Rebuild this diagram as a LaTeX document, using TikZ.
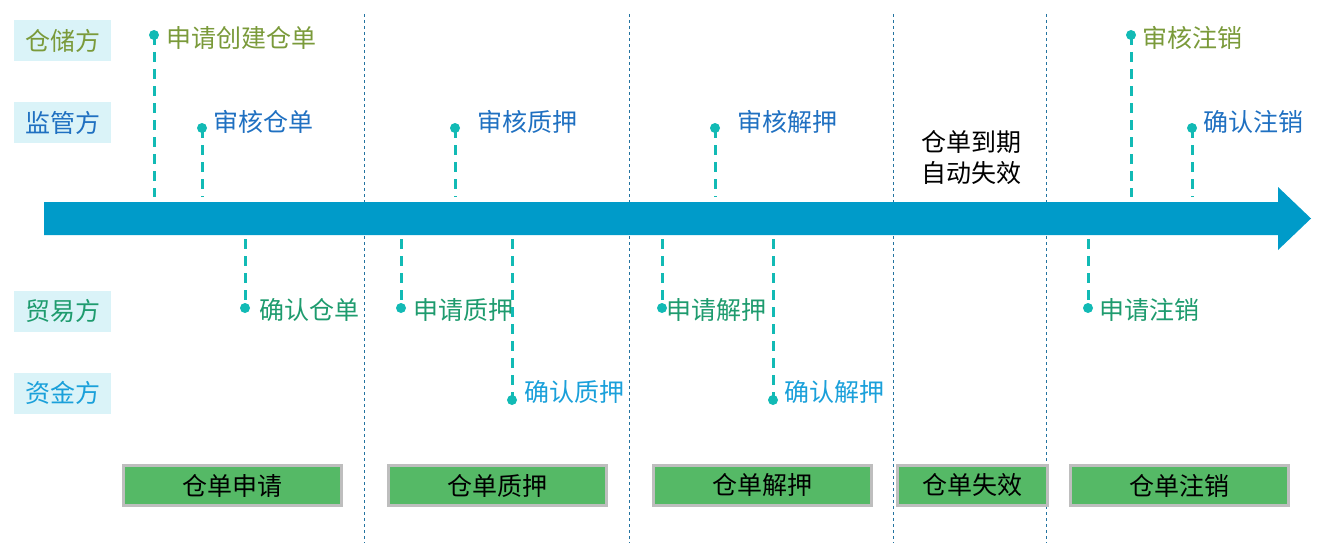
\documentclass[tikz,border=0pt]{standalone}
\usepackage{fontspec}
\newfontfamily\cjk{Noto Sans CJK SC}
\definecolor{partybg}{RGB}{218,243,248}
\definecolor{olivec}{RGB}{122,154,58}
\definecolor{bluec}{RGB}{31,112,193}
\definecolor{greenc}{RGB}{30,155,110}
\definecolor{cyanc}{RGB}{26,160,218}
\definecolor{dotc}{RGB}{18,186,181}
\definecolor{sepc}{RGB}{35,115,160}
\definecolor{bandc}{RGB}{0,155,201}
\definecolor{stagec}{RGB}{85,185,102}
\definecolor{stageb}{RGB}{190,190,190}
\begin{document}
\begin{tikzpicture}[x=1pt,y=-1pt]
\tikzset{
  cjkfont/.style={font=\cjk\fontsize{25}{31}\selectfont},
  party/.style={fill=partybg, minimum width=97pt, minimum height=41pt, inner sep=0pt, cjkfont},
  evtext/.style={anchor=west, inner sep=0pt, cjkfont},
  evdot/.style={circle, fill=dotc, minimum size=10pt, inner sep=0pt},
  evline/.style={draw=dotc, line width=3pt, dash pattern=on 10pt off 7pt},
  sepline/.style={draw=sepc, line width=0.9pt, dash pattern=on 3pt off 3pt},
  stagebox/.style={fill=stagec, draw=stageb, line width=3pt, minimum width=218pt, minimum height=40pt, inner sep=0pt, cjkfont, text=black},
}
\useasboundingbox (0,0) rectangle (1321,543);

% separators (behind the band)
\coordinate (v1t) at (364,14); \coordinate (v1b) at (364,543);
\coordinate (v2t) at (629,14); \coordinate (v2b) at (629,543);
\coordinate (v3t) at (893,14); \coordinate (v3b) at (893,543);
\coordinate (v4t) at (1046,14); \coordinate (v4b) at (1046,543);
\draw[sepline] (v1t) -- (v1b);
\draw[sepline] (v2t) -- (v2b);
\draw[sepline] (v3t) -- (v3b);
\draw[sepline] (v4t) -- (v4b);

% parties
\node[party, text=olivec] (p1) at (62.5,40.5) {仓储方};
\node[party, text=bluec] (p2) at (62.5,122.5) {监管方};
\node[party, text=greenc] (p3) at (62.5,311) {贸易方};
\node[party, text=cyanc] (p4) at (62.5,393) {资金方};

% timeline arrow
\fill[bandc] (44,202) -- (1278,202) -- (1278,187) -- (1311,218.5) -- (1278,250) -- (1278,235) -- (44,235) -- cycle;

% event anchor points on the band
\coordinate (t1) at (154,197);
\coordinate (t2) at (202,197);
\coordinate (b3) at (245,239);
\coordinate (t4) at (455,197);
\coordinate (b5) at (401,239);
\coordinate (b6) at (512,239);
\coordinate (t7) at (715,197);
\coordinate (b8) at (662,239);
\coordinate (b9) at (773,239);
\coordinate (t10) at (1131,197);
\coordinate (t11) at (1192,197);
\coordinate (b12) at (1088,239);

% events
\node[evdot] (d1) at (154,35) {};
\draw[evline] (d1.center) -- (t1);
\node[evtext, text=olivec] (e1) at (166,38) {申请创建仓单};

\node[evdot] (d2) at (202,128) {};
\draw[evline] (d2.center) -- (t2);
\node[evtext, text=bluec] (e2) at (213,122) {审核仓单};

\node[evdot] (d3) at (245,308) {};
\draw[evline] (b3) -- (d3.center);
\node[evtext, text=greenc] (e3) at (259,310) {确认仓单};

\node[evdot] (d4) at (455,128) {};
\draw[evline] (d4.center) -- (t4);
\node[evtext, text=bluec] (e4) at (477,122) {审核质押};

\node[evdot] (d5) at (401,308) {};
\draw[evline] (b5) -- (d5.center);
\node[evtext, text=greenc] (e5) at (413,310) {申请质押};

\node[evdot] (d6) at (512,400) {};
\draw[evline] (b6) -- (d6.center);
\node[evtext, text=cyanc] (e6) at (524,392) {确认质押};

\node[evdot] (d7) at (715,128) {};
\draw[evline] (d7.center) -- (t7);
\node[evtext, text=bluec] (e7) at (737,122) {审核解押};

\node[evdot] (d8) at (662,308) {};
\draw[evline] (b8) -- (d8.center);
\node[evtext, text=greenc] (e8) at (666,310) {申请解押};

\node[evdot] (d9) at (773,400) {};
\draw[evline] (b9) -- (d9.center);
\node[evtext, text=cyanc] (e9) at (784,392) {确认解押};

\node[cjkfont, align=center, inner sep=0pt, text=black] (exp) at (971,158) {仓单到期\\自动失效};

\node[evdot] (d10) at (1131,35) {};
\draw[evline] (d10.center) -- (t10);
\node[evtext, text=olivec] (e10) at (1142,38) {审核注销};

\node[evdot] (d11) at (1192,128) {};
\draw[evline] (d11.center) -- (t11);
\node[evtext, text=bluec] (e11) at (1203,122) {确认注销};

\node[evdot] (d12) at (1088,308) {};
\draw[evline] (b12) -- (d12.center);
\node[evtext, text=greenc] (e12) at (1099,310) {申请注销};

% stages
\node[stagebox] (s1) at (232.5,485.5) {仓单申请};
\node[stagebox] (s2) at (497,485.5) {仓单质押};
\node[stagebox] (s3) at (762,485.5) {仓单解押};
\node[stagebox, minimum width=150pt] (s4) at (972,485.5) {仓单失效};
\node[stagebox] (s5) at (1179,485.5) {仓单注销};
\end{tikzpicture}
\end{document}
